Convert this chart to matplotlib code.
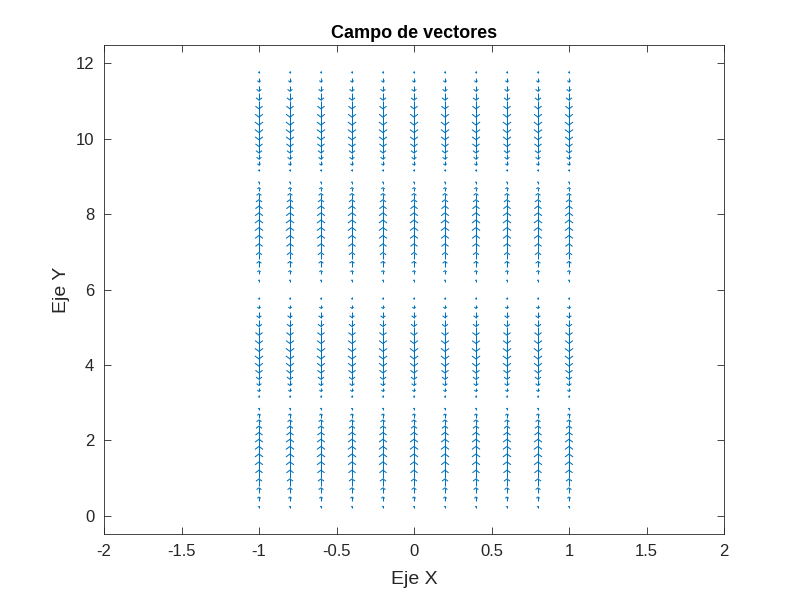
import numpy as np
import matplotlib.pyplot as plt
from matplotlib.collections import LineCollection

plt.rcParams['font.family'] = ['Liberation Sans', 'DejaVu Sans']

# Grid of the vector field
x_vals = [-1.0, -0.8, -0.6, -0.4, -0.2, 0.0, 0.2, 0.4, 0.6, 0.8, 1.0]
y_vals = [round(0.2 * k, 1) for k in range(61)]

# Horizontal component is zero everywhere
u_vals = [0.0] * 61

# Vertical component along y (same for every column)
v_vals = [0.00, 0.21, 0.41, 0.59, 0.74, 0.87, 0.95, 0.99, 0.99, 0.95,
          0.87, 0.74, 0.59, 0.41, 0.21,
          0.00, -0.21, -0.41, -0.59, -0.74, -0.87, -0.95, -0.99, -0.99, -0.95,
          -0.87, -0.74, -0.59, -0.41, -0.21,
          0.00, 0.21, 0.41, 0.59, 0.74, 0.87, 0.95, 0.99, 0.99, 0.95,
          0.87, 0.74, 0.59, 0.41, 0.21,
          0.00, -0.21, -0.41, -0.59, -0.74, -0.87, -0.95, -0.99, -0.99, -0.95,
          -0.87, -0.74, -0.59, -0.41, -0.21,
          0.00]

x_ticks = [-2, -1.5, -1, -0.5, 0, 0.5, 1, 1.5, 2]
x_tick_labels = ['-2', '-1.5', '-1', '-0.5', '0', '0.5', '1', '1.5', '2']
y_ticks = [0, 2, 4, 6, 8, 10, 12]

X, Y = np.meshgrid(np.array(x_vals), np.array(y_vals))
U = np.tile(np.array(u_vals)[:, None], (1, len(x_vals)))
V = np.tile(np.array(v_vals)[:, None], (1, len(x_vals)))

# MATLAB style autoscale of the arrows
m, n = X.shape
delx = (X.max() - X.min()) / n
dely = (Y.max() - Y.min()) / m
del2 = delx ** 2 + dely ** 2
maxlen = np.sqrt((U ** 2 + V ** 2) / del2).max()
U = U * 0.9 / maxlen
V = V * 0.9 / maxlen

alpha, beta = 0.33, 0.33
segs = []
for x, y, u, v in zip(X.ravel(), Y.ravel(), U.ravel(), V.ravel()):
    if u == 0 and v == 0:
        continue
    tip = (x + u, y + v)
    segs.append([(x, y), tip])
    segs.append([(x + u - alpha * (u + beta * v), y + v - alpha * (v - beta * u)),
                 tip,
                 (x + u - alpha * (u - beta * v), y + v - alpha * (v + beta * u))])

fig = plt.figure(figsize=(8, 6), dpi=100)
ax = fig.add_axes([0.13, 0.11, 0.775, 0.815])
ax.add_collection(LineCollection(segs, colors='#0072BD', linewidths=0.75))

ax.set_xlim(-2, 2)
ax.set_ylim(-0.48, 12.48)
ax.set_xticks(x_ticks)
ax.set_xticklabels(x_tick_labels)
ax.set_yticks(y_ticks)
ax.tick_params(direction='in', length=5, width=0.6, colors='#262626',
               labelsize=12, top=True, right=True, pad=7)
for s in ax.spines.values():
    s.set_color('#262626')
    s.set_linewidth(0.6)

ax.set_title('Campo de vectores', fontsize=13, fontweight='bold', color='black', pad=5)
ax.set_xlabel('Eje X', fontsize=14, color='#262626', labelpad=9)
ax.set_ylabel('Eje Y', fontsize=14, color='#262626', labelpad=4)

fig.savefig('out.png', dpi=100, facecolor='white')
